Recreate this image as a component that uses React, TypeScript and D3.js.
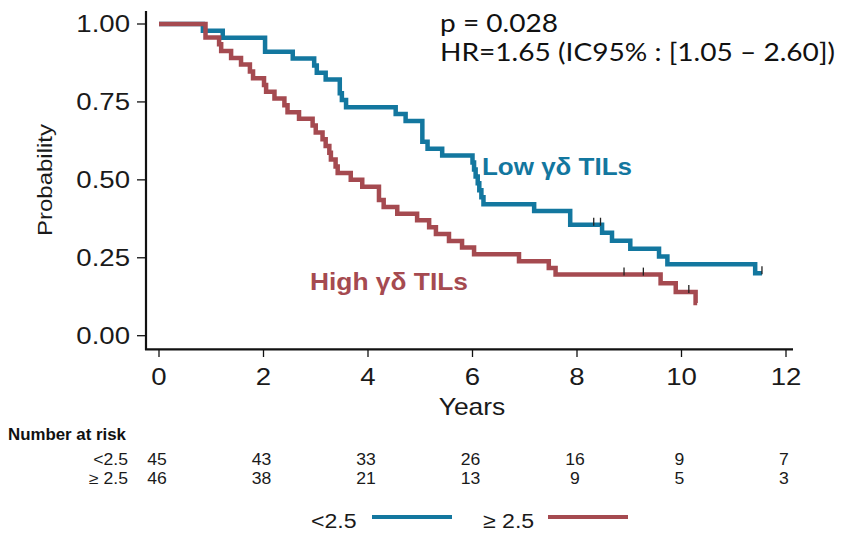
import React from 'react';
import * as d3 from 'd3';

// ---- Data ----
const xTicks = [0, 2, 4, 6, 8, 10, 12];
const yTicks = [0, 0.25, 0.5, 0.75, 1];
const yTickLabels = ['0.00', '0.25', '0.50', '0.75', '1.00'];

const groups = ['<2.5', '≥ 2.5'];
const riskLow = [45, 43, 33, 26, 16, 9, 7];
const riskHigh = [46, 38, 21, 13, 9, 5, 3];

// Low γδ TILs (<2.5), Kaplan–Meier step points
const lowTimes = [0, 0.84, 1.22, 2.03, 2.56, 2.97, 3.02, 3.19, 3.46, 3.5, 3.58, 4.53, 4.72, 5.04, 5.14, 5.42,
  6.0, 6.03, 6.06, 6.1, 6.13, 6.17, 6.21, 7.18, 7.87, 8.48, 8.67, 9.02, 9.57, 9.73, 11.41];
const lowSurv = [1, 0.978, 0.956, 0.911, 0.889, 0.867, 0.844, 0.822, 0.778, 0.756, 0.733, 0.711, 0.689, 0.622, 0.6, 0.578,
  0.556, 0.533, 0.511, 0.489, 0.467, 0.444, 0.422, 0.4, 0.356, 0.33, 0.305, 0.279, 0.254, 0.229, 0.2];
const lowCensor = [8.32, 8.45, 11.54];
const lowEnd = 11.54;

// High γδ TILs (≥ 2.5)
const highTimes = [0, 0.89, 1.15, 1.19, 1.38, 1.57, 1.74, 1.8, 2.01, 2.05, 2.21, 2.4, 2.46, 2.68, 2.94, 3.0, 3.13,
  3.19, 3.26, 3.29, 3.38, 3.42, 3.67, 3.89, 4.21, 4.3, 4.56, 4.94, 5.17, 5.3, 5.55, 5.8, 6.03, 6.89, 7.46, 7.59,
  9.6, 9.89, 10.27];
const highSurv = [1, 0.957, 0.935, 0.913, 0.891, 0.87, 0.848, 0.826, 0.804, 0.783, 0.761, 0.739, 0.717, 0.696, 0.674,
  0.652, 0.63, 0.609, 0.587, 0.565, 0.543, 0.522, 0.5, 0.478, 0.435, 0.413, 0.391, 0.37, 0.348, 0.326, 0.304, 0.283,
  0.261, 0.239, 0.217, 0.196, 0.168, 0.14, 0.105];
const highCensor = [8.9, 9.27, 10.14];
const highEnd = 10.3;

const BLUE = '#13779f';
const RED = '#a54a50';
const SANS = '"Liberation Sans", Arial, sans-serif';

function SText({ x, y, children, anchor = 'start', sx = 1.2, size = 23, weight = 'normal', fill = '#1a1a1a' }: any) {
  return (
    <text transform={`translate(${x},${y}) scale(${sx},1)`} textAnchor={anchor}
      fontSize={size} fontWeight={weight} fill={fill} fontFamily={SANS}>{children}</text>
  );
}

export default function App() {
  const x = d3.scaleLinear().domain([0, 12]).range([159, 786]);
  const y = d3.scaleLinear().domain([0, 1]).range([335.7, 24]);
  const line = d3.line<[number, number]>().x(d => x(d[0])).y(d => y(d[1])).curve(d3.curveStepAfter);

  const pts = (t: number[], s: number[], end: number): [number, number][] =>
    [...t.map((v, i) => [v, s[i]] as [number, number]), [end, s[s.length - 1]]];
  const survAt = (t: number[], s: number[], c: number) => s[Math.max(0, d3.bisectRight(t, c) - 1)];

  const series = [
    { times: lowTimes, surv: lowSurv, cens: lowCensor, end: lowEnd, color: BLUE },
    { times: highTimes, surv: highSurv, cens: highCensor, end: highEnd, color: RED },
  ];

  return (
    <div style={{ position: 'fixed', left: 0, top: 0 }}>
      <svg width={849} height={534} style={{ display: 'block', background: '#fff' }}>
        {/* axes */}
        <line x1={146} x2={146} y1={11} y2={350} stroke="#111" strokeWidth={2.2} />
        <line x1={145} x2={793} y1={349.3} y2={349.3} stroke="#111" strokeWidth={2.2} />
        {yTicks.map((v, i) => (
          <g key={'y' + i}>
            <line x1={137} x2={146} y1={y(v)} y2={y(v)} stroke="#111" strokeWidth={1.3} />
            <SText x={130} y={y(v) + 8.3} anchor="end">{yTickLabels[i]}</SText>
          </g>
        ))}
        {xTicks.map(t => (
          <g key={'x' + t}>
            <line x1={x(t)} x2={x(t)} y1={349} y2={357} stroke="#111" strokeWidth={1.3} />
            <SText x={x(t)} y={385} anchor="middle">{t}</SText>
          </g>
        ))}
        <SText x={472} y={415} anchor="middle" sx={1.15}>Years</SText>
        <text transform="translate(52,180) rotate(-90) scale(1.2,1)" textAnchor="middle" fontSize={20}
          fontFamily={SANS} fill="#1a1a1a">Probability</text>

        {/* curves */}
        {series.map((s, i) => (
          <path key={'c' + i} d={line(pts(s.times, s.surv, s.end)) || ''} fill="none" stroke={s.color}
            strokeWidth={4.5} strokeLinejoin="miter" strokeLinecap="butt" />
        ))}
        {series.map((s, i) => s.cens.map((c, j) => {
          const yy = y(survAt(s.times, s.surv, c));
          return <line key={'k' + i + j} x1={x(c)} x2={x(c)} y1={yy - 7} y2={yy + 1} stroke="#222" strokeWidth={1.3} />;
        }))}

        {/* annotations */}
        <text x={440} y={32} fontSize={25} fontFamily='Lato, "Open Sans", sans-serif' fill="#111"
          textLength={118} lengthAdjust="spacingAndGlyphs">p = 0.028</text>
        <text x={440} y={61} fontSize={25} fontFamily='Lato, "Open Sans", sans-serif' fill="#111"
          textLength={395} lengthAdjust="spacingAndGlyphs">HR=1.65 (IC95% : [1.05 – 2.60])</text>
        <text x={482} y={175} fontSize={24} fontWeight="bold" fontFamily={SANS} fill={BLUE}
          textLength={150} lengthAdjust="spacingAndGlyphs">Low γδ TILs</text>
        <text x={310} y={290} fontSize={24} fontWeight="bold" fontFamily={SANS} fill={RED}
          textLength={158} lengthAdjust="spacingAndGlyphs">High γδ TILs</text>

        {/* number at risk */}
        <text x={8} y={440} fontSize={16} fontWeight="bold" fontFamily={SANS} fill="#111"
          textLength={118} lengthAdjust="spacingAndGlyphs">Number at risk</text>
        <SText x={128} y={465} anchor="end" size={16} sx={1.1}>{groups[0]}</SText>
        <SText x={128} y={484} anchor="end" size={16} sx={1.1}>{groups[1]}</SText>
        {xTicks.map((t, i) => (
          <g key={'r' + t}>
            <SText x={x(t) - 2} y={465} anchor="middle" size={16} sx={1.1}>{riskLow[i]}</SText>
            <SText x={x(t) - 2} y={484} anchor="middle" size={16} sx={1.1}>{riskHigh[i]}</SText>
          </g>
        ))}

        {/* legend */}
        <SText x={311} y={528} size={21} sx={1.1}>{groups[0]}</SText>
        <line x1={372} x2={452} y1={517} y2={517} stroke={BLUE} strokeWidth={4} />
        <SText x={483} y={528} size={21} sx={1.1}>{groups[1]}</SText>
        <line x1={548} x2={628} y1={517} y2={517} stroke={RED} strokeWidth={4} />
      </svg>
    </div>
  );
}
